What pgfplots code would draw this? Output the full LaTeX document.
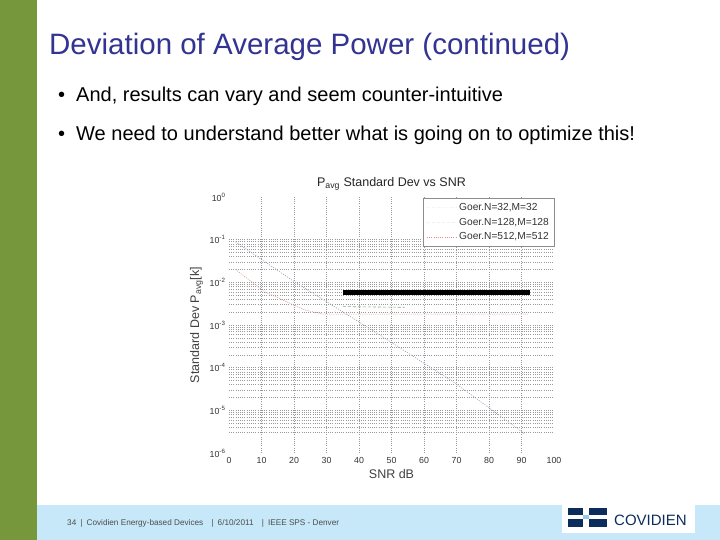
\documentclass[border=0pt]{standalone}
\usepackage{fontspec}
\setmainfont{Liberation Sans}
\usepackage{pgfplots}
\pgfplotsset{compat=1.18}

\definecolor{slidegreen}{RGB}{119,151,60}
\definecolor{footblue}{RGB}{199,232,249}
\definecolor{titleblue}{RGB}{51,51,145}
\definecolor{navy}{RGB}{12,45,92}
\definecolor{logolight}{RGB}{150,200,235}
\definecolor{seriesA}{RGB}{140,150,175}
\definecolor{seriesB}{RGB}{120,175,135}
\definecolor{seriesC}{RGB}{225,140,145}

\begin{document}
\begin{tikzpicture}
  \useasboundingbox (0pt,0pt) rectangle (720pt,-540pt);
  \begin{scope}[x=1pt,y=-1pt]
    \fill[white] (0,0) rectangle (720,540);
    \fill[slidegreen] (0,0) rectangle (37,540);
    \fill[footblue] (37,505) rectangle (720,540);
    \node[anchor=base west, inner sep=0, text=titleblue,
      font=\fontsize{29.5}{34}\selectfont] at (49,55)
      {Deviation of Average Power (continued)};
    \node[anchor=base west, inner sep=0, font=\fontsize{20}{24}\selectfont]
      at (58,102) {\textbullet};
    \node[anchor=base west, inner sep=0, font=\fontsize{20}{24}\selectfont]
      at (76,102) {And, results can vary and seem counter-intuitive};
    \node[anchor=base west, inner sep=0, font=\fontsize{20}{24}\selectfont]
      at (58,141) {\textbullet};
    \node[anchor=base west, inner sep=0, font=\fontsize{20}{24}\selectfont]
      at (76,141) {We need to understand better what is going on to optimize this!};
    % footer
    \node[anchor=base west, inner sep=0, text=black!70,
      font=\fontsize{8.2}{10}\selectfont] at (67,525)
      {34\enspace|\enspace Covidien Energy-based Devices\enspace\enspace|\enspace 6/10/2011\enspace\enspace|\enspace IEEE SPS - Denver};
    % logo
    \fill[white] (562,503) rectangle (695,533);
    \fill[navy] (568,508) rectangle (607,527);
    \fill[white] (583,508) rectangle (589,527);
    \fill[white] (568,515) rectangle (607,519);
    \fill[logolight] (583,515) rectangle (589,519);
    \node[anchor=base west, inner sep=0, text=navy,
      font=\fontsize{15}{18}\selectfont] at (614,525) {COVIDIEN};
  \end{scope}

  \begin{axis}[
    at={(229pt,-453pt)}, anchor=south west,
    width=325pt, height=256pt, scale only axis,
    ymode=log,
    xmin=0, xmax=100,
    ymin=1e-6, ymax=1,
    axis line style={draw=none},
    tick style={draw=none},
    xtick={0,10,...,100},
    minor xtick={10,20,...,90},
    ytick={1e-6,1e-5,1e-4,1e-3,1e-2,1e-1,1},
    yticklabels={10\textsuperscript{-6},10\textsuperscript{-5},10\textsuperscript{-4},
      10\textsuperscript{-3},10\textsuperscript{-2},10\textsuperscript{-1},10\textsuperscript{0}},
    minor ytick={3e-6,4e-6,5e-6,6e-6,7e-6,8e-6,9e-6,
      1e-5,2e-5,3e-5,4e-5,5e-5,6e-5,7e-5,8e-5,9e-5,
      1e-4,2e-4,3e-4,4e-4,5e-4,6e-4,7e-4,8e-4,9e-4,
      1e-3,2e-3,3e-3,4e-3,5e-3,6e-3,7e-3,8e-3,9e-3,
      1e-2,2e-2,3e-2,4e-2,5e-2,6e-2,7e-2,8e-2,9e-2,1e-1},
    xmajorgrids=false, ymajorgrids=false,
    xminorgrids=true, yminorgrids=true,
    minor grid style={draw=black!40, line width=.5pt, dash pattern=on 1pt off 1.2pt},
    /pgf/number format/assume math mode=true,
    tick label style={font=\fontsize{8.8}{10}\selectfont, text=black!80},
    xticklabel style={yshift=-1pt},
    xlabel={SNR dB},
    ylabel={Standard Dev P\textsubscript{avg}[k]},
    label style={font=\fontsize{12.5}{14}\selectfont, text=black!75},
    xlabel style={yshift=1pt},
    title={P\textsubscript{avg} Standard Dev vs SNR},
    title style={font=\fontsize{12.5}{14}\selectfont, text=black!85, yshift=-3pt},
    legend style={at={(1,0.995)}, anchor=north east, draw=black!45, fill=white,
      font=\fontsize{10.2}{12}\selectfont, text=black!80, cells={anchor=west},
      inner xsep=3pt, inner ysep=3pt, row sep=2pt},
    legend image code/.code={\draw[#1] (0pt,0pt) -- (30pt,0pt);},
    legend cell align=left,
  ]
    \addplot[color=seriesA, line width=.6pt, dash pattern=on 1pt off 1.4pt,
      legend image post style={draw=black!6}]
      coordinates {(2,0.089) (20,0.0105) (43,8.5e-4) (69.5,4.4e-5) (91,2.8e-6)};
    \addlegendentry{Goer.N=32,M=32}
    \addplot[color=seriesB, line width=.6pt, dash pattern=on 3pt off 2pt,
      legend image post style={draw=black!6}]
      coordinates {(35,2.7e-3) (54,2.6e-3)};
    \addlegendentry{Goer.N=128,M=128}
    \addplot[color=seriesC, line width=.6pt, dash pattern=on 1pt off 1.2pt]
      coordinates {(2,0.02) (11,6.0e-3) (23.3,2.25e-3) (29,1.8e-3) (92,1.8e-3)};
    \addlegendentry{Goer.N=512,M=512}
    \addplot[forget plot, black, line width=5pt, line cap=butt]
      coordinates {(35,5.7e-3) (92.6,5.7e-3)};
  \end{axis}
\end{tikzpicture}
\end{document}
